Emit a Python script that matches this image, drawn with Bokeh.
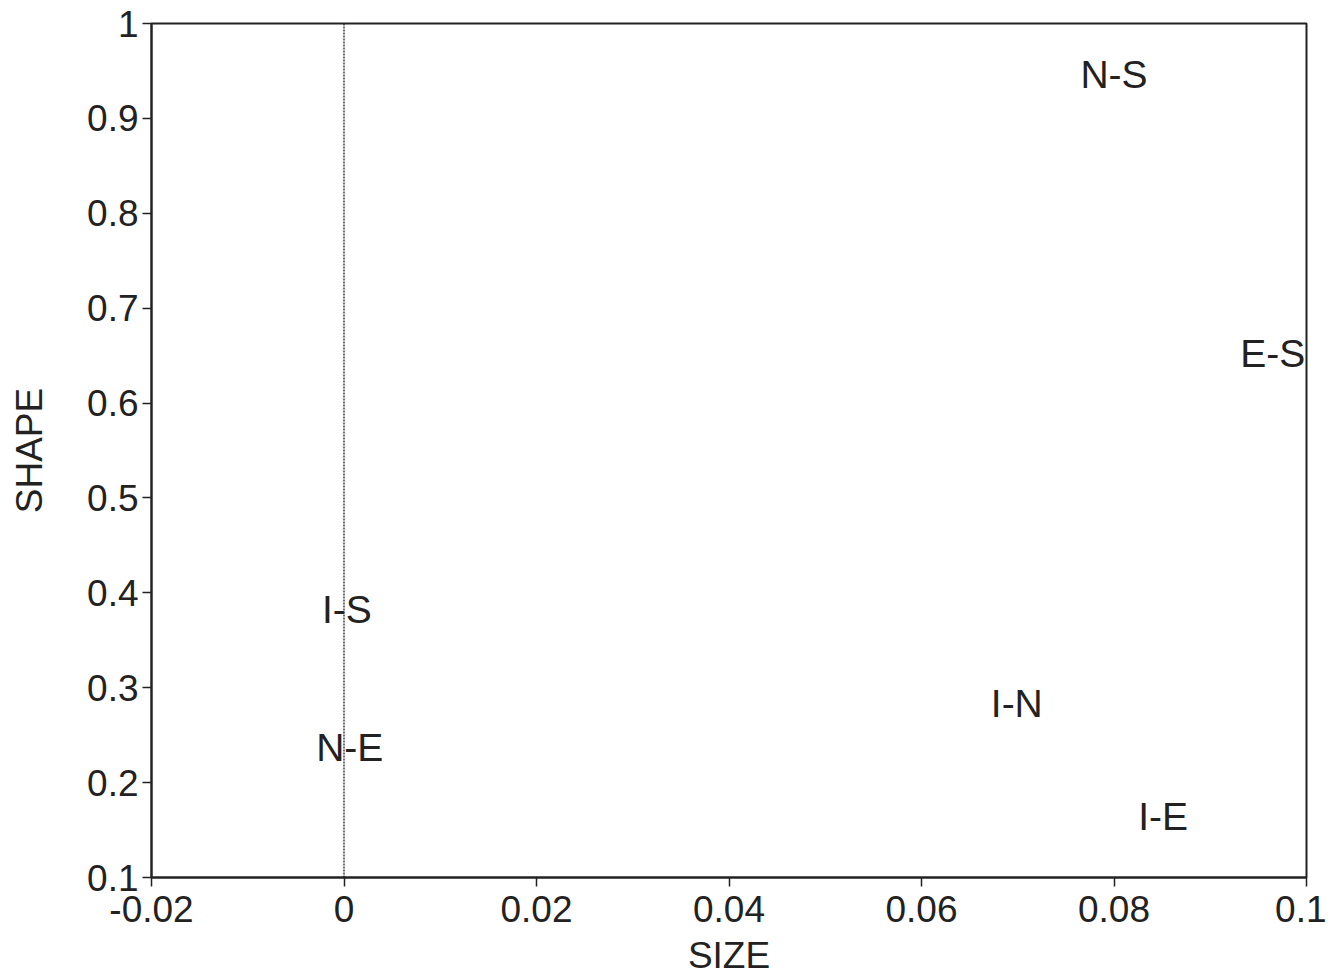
from bokeh.plotting import figure
from bokeh.models import ColumnDataSource, FixedTicker, Range1d
from bokeh.core.properties import value
from bokeh.embed import file_html
from bokeh.resources import INLINE

labels = ["N-S", "E-S", "I-S", "N-E", "I-N", "I-E"]
size = [0.080, 0.0965, 0.0003, 0.0006, 0.0699, 0.0851]
shape = [0.946, 0.652, 0.382, 0.237, 0.283, 0.164]

x_ticks = [-0.02, 0.0, 0.02, 0.04, 0.06, 0.08, 0.1]
x_tick_labels = ["-0.02", "0", "0.02", "0.04", "0.06", "0.08", "0.1"]
y_ticks = [0.1, 0.2, 0.3, 0.4, 0.5, 0.6, 0.7, 0.8, 0.9, 1.0]
y_tick_labels = ["0.1", "0.2", "0.3", "0.4", "0.5", "0.6", "0.7", "0.8", "0.9", "1"]

FONT = "Liberation Sans"
INK = "#222222"

p = figure(frame_width=1155, frame_height=854, output_backend="svg",
           toolbar_location=None, x_range=Range1d(-0.02, 0.1), y_range=Range1d(0.1, 1.0))
p.min_border_left = 151
p.min_border_right = 20
p.min_border_top = 23
p.min_border_bottom = 95
p.background_fill_color = "white"
p.border_fill_color = "white"
p.grid.visible = False
p.outline_line_color = INK
p.outline_line_width = 2

for ax in (p.xaxis[0], p.yaxis[0]):
    ax.axis_line_color = INK
    ax.axis_line_width = 2
    ax.major_tick_line_color = INK
    ax.major_tick_line_width = 1.5
    ax.major_tick_out = 9
    ax.major_tick_in = 0
    ax.minor_tick_line_color = None
    ax.major_label_text_font = FONT
    ax.major_label_text_font_size = "37px"
    ax.major_label_text_color = INK
    ax.axis_label_text_font = FONT
    ax.axis_label_text_font_size = "37px"
    ax.axis_label_text_font_style = "normal"
    ax.axis_label_text_color = INK

p.xaxis[0].ticker = FixedTicker(ticks=x_ticks)
p.xaxis[0].major_label_overrides = {t: l for t, l in zip(x_ticks, x_tick_labels)}
p.yaxis[0].ticker = FixedTicker(ticks=y_ticks)
p.yaxis[0].major_label_overrides = {t: l for t, l in zip(y_ticks, y_tick_labels)}
p.xaxis[0].axis_label = "SIZE"
p.yaxis[0].axis_label = "SHAPE"
p.xaxis[0].major_label_standoff = 9
p.yaxis[0].major_label_standoff = 4
p.xaxis[0].axis_label_standoff = 10
p.yaxis[0].axis_label_standoff = 34

# dotted zero line
p.line(x=[0, 0], y=[0.1, 1.0], line_color="#111111", line_width=1.2, line_dash="2 1")

src = ColumnDataSource(dict(x=size, y=shape, t=labels))
p.text(x="x", y="y", text="t", source=src, text_align="center", text_baseline="middle",
       text_font=value(FONT), text_font_size="39px", text_color=INK)

open("out.html", "w").write(file_html(p, INLINE))
